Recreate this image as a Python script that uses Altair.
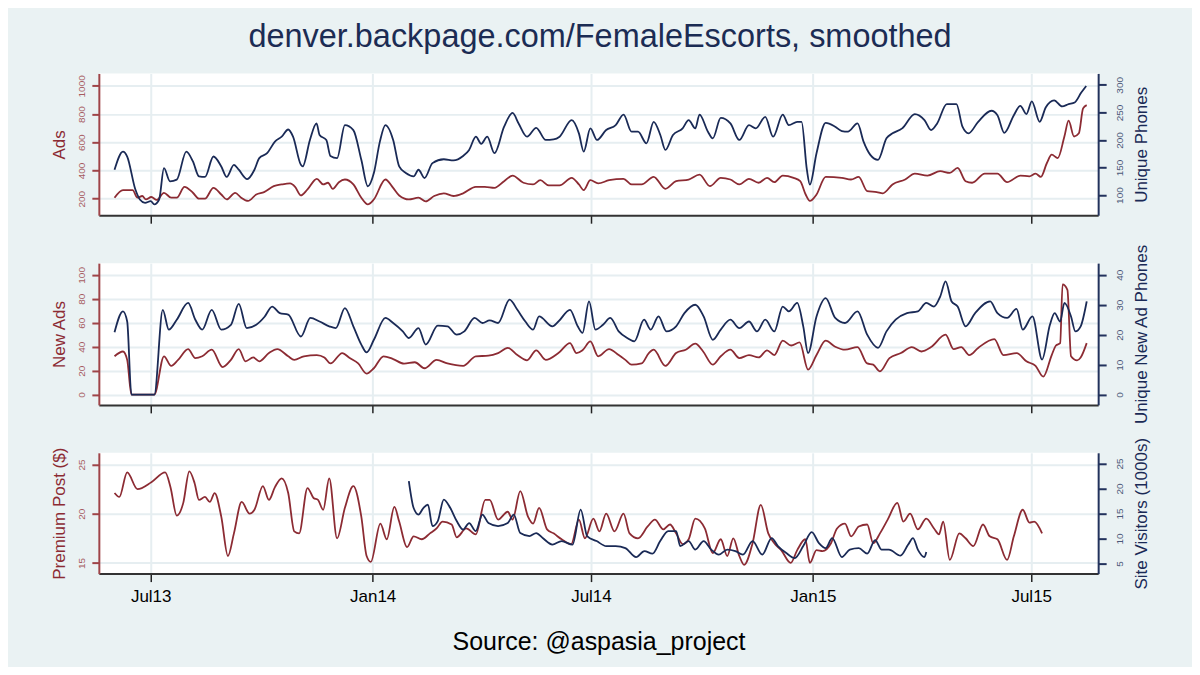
import altair as alt
import pandas as pd

# ---------------- data (days since 2013-07-01, values) ----------------
phones_days = [-30,-23,-19.5,-12.7,-9,-4.7,0,3,7,11,
    16,21.6,29.5,35,40,45,52,58.5,63,69,
    73,80,86,90,96.5,103,108.6,114,118,124.5,
    126,132,137.5,140,145.6,149,154.5,161,168,174.6,
    180,185,190,194.6,201,206,211.5,218,222,227,
    233.6,243,251,259,264,269.6,274,279,285,293,
    300,305,312,319.6,327.5,334,339,349,355,359,
    364.5,370,377.6,385.5,392,398.7,404,411,417,422.5,
    426.7,433,441,446,451.5,455,462,466,472.6,480.6,
    488,496,501.6,509.5,516,524,529,536,539.6,544,
    546.5,552,559.6,567.5,573,578,586,591,596.6,603,
    610,615,623,633.5,641.5,647,652,660,668,673,
    678,686,697,702,707.7,715.6,721,726,730.5,737,
    742,749,755.6,761,766,771.5,775.6]
phones_vals = [146,179,170,110,92,86,89,83,92,149,
    125,128,179,161,134,133,170,152,133,155,
    146,129,146,167,176,197,206,219,206,155,
    152,200,230,209,200,171,167,227,218,164,
    116,140,197,227,200,152,140,134,146,131,
    158,165,163,171,182,206,193,206,176,224,
    249,230,206,222,200,201,206,236,212,179,
    221,200,218,227,246,215,215,194,233,209,
    182,209,221,236,221,246,215,203,240,230,
    200,227,221,242,206,246,227,233,233,146,
    119,176,231,224,216,215,230,197,173,164,
    203,212,221,247,236,218,230,265,265,224,
    212,233,253,245,213,245,262,247,270,233,
    259,272,261,265,268,286,298]

ads_days = [-30,-23,-15,-11,-7,-4,0.5,5,11,17,
    21.6,28,35,40,45,52,58.5,63,70,75,
    80.7,87.5,94,102,108.6,115.5,119.7,124.5,130,137.7,
    143,147,151,156,161,168,174.6,180,185,194.6,
    201,206,214,222,228,235,243,251,259,269.5,
    277,285,293,300,309,317,323,330,339,349,
    355,359,364.5,371,380,392,398.7,407,417,426.7,
    435.6,446,455,463.6,472.6,480.6,488,496,504,511,
    517,524,533,538.5,543,546.5,552,559.6,573,580.6,
    587,594,602,607,615,625.5,633.5,644,654.5,662.5,
    669,675.6,681,691.5,702,710,721,728.5,733.6,738,
    743,747,752,757.5,761,765.5,769.5,773,776]
ads_vals = [207,261,261,207,219,195,212,191,242,207,
    207,284,242,200,200,277,230,195,242,207,
    184,230,247,289,301,308,284,223,266,341,
    301,313,270,317,336,301,207,160,195,336,
    277,223,195,207,181,219,238,219,238,284,
    284,277,324,364,313,301,331,294,294,348,
    301,261,331,308,331,341,301,301,355,270,
    324,336,371,289,348,336,301,341,313,348,
    317,364,348,324,230,184,230,355,348,336,
    355,254,247,238,301,336,378,364,395,383,
    418,324,313,378,378,317,364,359,378,355,
    453,512,488,641,753,641,664,840,863]

newads_days = [-30,-23,-19.5,-16,3,11,17,22.7,31,37,
    42.7,50.6,59.6,66.5,73,78.6,85,90,98,105,
    114,119,127,137.7,144,149,158.8,165,172,179,
    185,193,201,210,219,227,237,246,259,269.5,
    280,288,296,304,312,319.6,327.5,338,347.6,353,
    358,364.5,371,380,388,393.5,398.7,407,413,417,
    426.7,435.6,443.6,451.5,458,466,472.6,480.6,488,496,
    504,511,517,524,531,538,545,552,559.6,567.5,
    575.6,586,594,599,604.6,612.5,622,631,639,647,
    659,665.6,672,678.6,686,699.4,707,718,726,733.6,
    740,747,750.5,754,756,760,763,768,771,776]
newads_vals = [32,36,29,0,0,32,24,29,38,30.5,
    32,37.5,23,29,38,27.8,31,27.8,34.7,38,
    32,29,32,33,31,26,34.7,30.5,26,17.5,
    22,32,29.7,25.8,27,22,29,26,24,32,
    32.5,34.7,39,33,28.6,37,29,34.7,43,34.7,
    37,44.4,32,38,33,29,25,26,34.7,37.5,
    24,34.7,37.5,42.5,36,25,32,37.5,30.5,33,
    31,37,33,45,41,43.6,20.8,33,45,40,
    37.5,39.7,26,25,19.4,30.5,34.7,39.7,36,39.7,
    50,38,39.7,33,39,46.4,33,34.7,27.8,24,
    15,33,41,43,92,87.5,32,28.6,31,43]

newph_days = [-30,-23,-19.5,-16,3,10,15,21.6,31,37,
    42.7,50.6,58.5,66.5,73,79.6,87.5,94.4,100.7,107,
    114,124.5,132.4,140,148,153.5,161,168,174.6,179,
    185,194.6,201,209,214,222,228,238,246,253.7,
    260,268.5,275,281,288,297.5,304,310.6,317,322,
    333,338,347.6,354,358,363.4,368.7,375,381,388,
    395,401,409,414.5,421,427.6,435.6,442.5,451.5,458.4,
    466,472.6,480.6,488,496,502.6,509.5,517,524,529,
    536,541,545,552,559.6,567.5,575.6,586,594,603,
    610,617.6,627,636,643,649.4,654.6,659,664,669,
    675.6,683.5,696,702,710,717.8,723,731,739,745.5,
    749.5,754,757.5,763,766.6,771,776]
newph_vals = [20.8,27.8,24.4,0,0,28.3,21.7,25,30.6,25,
    21.7,28.3,21.7,23.3,30.3,22.2,23.3,26,29.4,27.2,
    26.7,19.4,25.6,24.4,22.8,22.2,28.9,22.8,16.7,14.1,
    18.3,25.6,23.9,21.1,18.9,22.2,16.7,23,22.8,20,
    21.1,25.6,23.9,24.8,23.9,31.7,28.3,24.4,21.7,26.1,
    22.8,24.4,28.3,22.8,20.6,31.1,21.7,23.3,25.6,21.1,
    18.9,17.8,25,21.7,26.1,21.1,22.8,27.2,30,26.1,
    18.3,21.7,25,22.2,24.4,21.1,25,21.1,29.4,27.8,
    30.6,22.8,13.9,26.1,32.2,25.6,23.9,27.8,20,15.6,
    21.1,25,27.2,27.8,30.6,29.4,32.8,37.8,31.1,29.4,
    22.8,27.2,31.1,27.2,25.6,28.6,21.7,26.1,11.7,23.3,
    27.2,24.4,30.6,26.1,21.1,22.8,31.1]

prem_days = [-30,-26,-19.5,-11,0.5,12,16.4,21.6,27,32,
    36.4,40,45,49,53,58.5,64,69,75.4,82,
    86,93,98,103,108.6,114,119,123,130,135,
    138.7,143,148,154.5,161,168,174.6,179,182.5,190.4,
    195.7,202,206,212.5,218,224.7,231.5,237,242,249.5,
    253.7,261.6,269.5,277.4,281,288,296,300,306.4,312.8,
    317,322,328.6,334,340.7,348.6,355,360,367,372,
    377.6,384.5,392,397,404,412,418,425,430.5,435.6,
    441,446,451.5,459.4,466,472.6,478,483,488,492,
    499,505.8,512,517,522.7,530.6,536,542.7,546.5,552,
    557,564,569,575.6,580.7,587,594,599,604.6,611,
    619,624,629.6,636,643,649.4,653.5,657,662.5,670.4,
    675.6,682,690,695.6,702,710,715.6,723,728.5,732.5,
    739]
prem_vals = [22.1,21.7,24.2,22.5,23.2,24.2,22.7,19.8,21.1,24.3,
    23.1,21.4,21.7,21.2,22.1,19.7,15.7,18,21.2,20,
    20.4,22.8,21.4,22.7,23.6,22.1,18.2,18,22.6,21.6,
    21.4,20.4,23.6,17.5,20.6,22.8,19.7,15.7,15.1,19,
    17.4,20.7,19.2,16.6,17.7,17.4,18,18.5,19.2,18.9,
    17.6,18.5,17.9,21.4,21.4,19.4,20.2,19.4,22.3,19.7,
    19,20.6,18.4,18,17.4,16.9,19.4,17.5,19.5,18.2,
    20,18.2,20,18,17.5,18.7,19.4,18.4,18.9,18,
    16.9,17.4,19.5,18.5,16,17.4,15.7,17.5,15.7,14.8,
    17,20.9,18,17,16.3,15,16.3,17.4,15,16.3,
    16.2,17,18.5,19,17.7,18.7,18.9,17,18,19.4,
    21.1,19.2,20,18.4,19.5,18.5,17.9,19.2,15.3,18,
    17.5,16.7,18.9,17.7,17.4,15.3,17.7,20.4,19.1,19.2,
    18]

visit_days = [214,218,222,226,229.8,233.6,238,243,248.4,253.7,
    259,264,269.5,275,280,288,296,301,306.4,314,
    319.6,325,333,340.7,349.7,356.5,361.8,369.7,377.6,385.5,
    393.5,402.4,409.3,416,422.4,429,435.6,439,446,451.5,
    458.4,464.7,471,478,484.7,491,499,507,514.8,520,
    527,534,541,548,554,559.6,565,573,579.6,587,
    594,600.6,606,612,621.6,628,632,636,641.5,643]
visit_vals = [21.5,16.1,14.8,16.1,16.8,12.5,13.5,17.8,16.1,13.5,
    11.8,13.1,11.5,14.8,13.1,12.5,13.1,14.8,11.1,10.5,
    11.1,10.1,8.8,9.5,8.8,15.8,10.5,9.5,8.5,8.5,
    8.1,6.3,7.5,7,9.5,11.5,11.5,8.5,9.5,7.8,
    9.5,7.8,6.8,7.8,7.5,6.8,9.5,6.8,10.1,8.5,
    7.1,6.1,8.5,11.3,9.1,8.1,10.1,6.3,7.8,8.1,
    7,9.7,7.8,7.8,6.6,8.8,10.1,7.8,6.3,7.3]

TITLE = "denver.backpage.com/FemaleEscorts, smoothed"
SOURCE = "Source: @aspasia_project"

# ---------------- styling ----------------
FONT = "Liberation Sans"
BG = "#eaf2f3"
GRID = "#e6eef1"
RED = "#8c2b33"
NAVY = "#1a2a56"
RED_AX = "#9e4448"
NAVY_AX = "#22325c"
RED_LAB = "#a65b5f"
NAVY_LAB = "#4a5878"

BASE = pd.Timestamp("2013-07-01")


def frame(days, vals):
    n = min(len(days), len(vals))
    return pd.DataFrame({
        "date": [BASE + pd.Timedelta(days=float(d)) for d in days[:n]],
        "v": vals[:n],
    })


XTICKS = [alt.DateTime(year=2013, month=7, date=1),
          alt.DateTime(year=2014, month=1, date=1),
          alt.DateTime(year=2014, month=7, date=1),
          alt.DateTime(year=2015, month=1, date=1),
          alt.DateTime(year=2015, month=7, date=1)]
XDOM = [alt.DateTime(year=2013, month=5, date=19),
        alt.DateTime(year=2015, month=8, date=25, hours=12)]


def xenc(show_labels, source):
    kw = dict(values=XTICKS, format="%b%y", labels=show_labels, grid=True,
              gridColor=GRID, gridWidth=2, tickSize=8, tickWidth=1.5,
              tickColor="#222222", domainColor="#333333", domainWidth=2,
              labelFontSize=17, labelColor="black", labelPadding=7,
              labelFlush=False, labelFont=FONT)
    if source:
        kw.update(title=SOURCE, titleFontSize=25, titleFontWeight="normal",
                  titleColor="black", titlePadding=25, titleFont=FONT)
    else:
        kw.update(title=None)
    return alt.X("date:T", scale=alt.Scale(domain=XDOM), axis=alt.Axis(**kw))


def panel(ldf, rdf, ldom, rdom, lticks, rticks, ltitle, rtitle, h,
          show_labels=False, source=False):
    x = xenc(show_labels, source)
    left = alt.Chart(ldf).mark_line(color=RED, strokeWidth=1.8,
                                    interpolate="monotone").encode(
        x=x,
        y=alt.Y("v:Q", scale=alt.Scale(domain=ldom, nice=False, zero=False),
                axis=alt.Axis(orient="left", values=lticks, title=ltitle,
                              format="d",
                              grid=True, gridColor=GRID, gridWidth=2,
                              labelAngle=270, labelAlign="center",
                              labelBaseline="bottom", labelFontSize=10,
                              labelColor=RED_LAB, labelPadding=5,
                              labelFlush=False, labelFont=FONT,
                              tickColor=RED_AX, tickSize=7, tickWidth=2,
                              domainColor=RED_AX, domainWidth=2,
                              titleFontSize=17, titleFontWeight="normal",
                              titleColor=RED, titlePadding=8, titleFont=FONT)),
    )
    right = alt.Chart(rdf).mark_line(color=NAVY, strokeWidth=1.8,
                                     interpolate="monotone").encode(
        x=x,
        y=alt.Y("v:Q", scale=alt.Scale(domain=rdom, nice=False, zero=False),
                axis=alt.Axis(orient="right", values=rticks, title=rtitle,
                              format="d", grid=False,
                              labelAngle=270, labelAlign="center",
                              labelBaseline="top", labelFontSize=10,
                              labelColor=NAVY_LAB, labelPadding=8,
                              labelFlush=False, labelFont=FONT,
                              tickColor=NAVY_AX, tickSize=8, tickWidth=2,
                              domainColor=NAVY_AX, domainWidth=2,
                              titleFontSize=17, titleFontWeight="normal",
                              titleColor=NAVY, titlePadding=9, titleFont=FONT,
                              titleAngle=270, titleBaseline="top")),
    )
    return alt.layer(left, right).resolve_scale(y="independent").properties(
        width=1001, height=h)


p1 = panel(frame(ads_days, ads_vals), frame(phones_days, phones_vals),
           [83, 1088], [63.5, 320.7], [200, 400, 600, 800, 1000],
           [100, 150, 200, 250, 300], "Ads", "Unique Phones", 142)
p2 = panel(frame(newads_days, newads_vals), frame(newph_days, newph_vals),
           [-8.6, 109.8], [-3.44, 43.9], [0, 20, 40, 60, 80, 100],
           [0, 10, 20, 30, 40], "New Ads", "Unique New Ad Phones", 142)
p3 = panel(frame(prem_days, prem_vals), frame(visit_days, visit_vals),
           [13.91, 26.19], [3.0, 27.14], [15, 20, 25],
           [5, 10, 15, 20, 25], "Premium Post ($)", "Site Visitors (1000s)", 121,
           show_labels=True, source=True)

chart = alt.vconcat(p1, p2, p3, spacing=48, bounds="flush").properties(
    title=alt.TitleParams(TITLE, fontSize=32.5, font=FONT, fontWeight="normal",
                          color="#1c2c54", anchor="middle", offset=-6,
                          baseline="alphabetic"),
    padding={"left": 42, "top": 12, "right": 43, "bottom": 12},
).configure(background=BG, font=FONT).configure_view(fill="white", strokeWidth=0)

chart.save("out.html", embed_options={"renderer": "svg", "actions": False})
